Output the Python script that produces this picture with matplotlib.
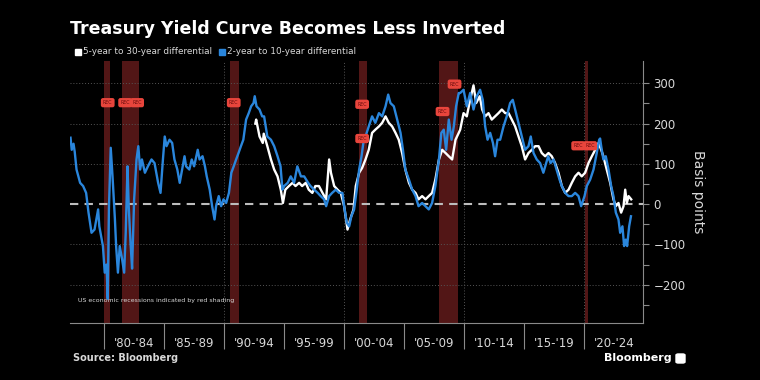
import matplotlib
matplotlib.use('Agg')
import matplotlib.pyplot as plt
from matplotlib.patches import Rectangle, FancyBboxPatch
from matplotlib.ticker import FixedLocator, NullFormatter

# DATA (basis points)
blue_years = [1977.2, 1977.3, 1977.45, 1977.55, 1977.7, 1978.0, 1978.25, 1978.5, 1978.7, 1978.95,
              1979.2, 1979.5, 1979.6, 1979.9, 1980.05, 1980.2, 1980.3, 1980.4, 1980.55, 1980.7,
              1980.9, 1981.0, 1981.15, 1981.3, 1981.5, 1981.67, 1981.8, 1981.95, 1982.05, 1982.2,
              1982.33, 1982.5, 1982.7, 1982.85, 1983.0, 1983.15, 1983.4, 1983.65, 1983.95, 1984.2,
              1984.5, 1984.7, 1984.9, 1985.05, 1985.2, 1985.45, 1985.67, 1985.86, 1986.1, 1986.3,
              1986.5, 1986.7, 1986.83, 1987.1, 1987.3, 1987.5, 1987.8, 1987.95, 1988.2, 1988.4,
              1988.55, 1988.8, 1989.0, 1989.2, 1989.33, 1989.55, 1989.75, 1989.95, 1990.17, 1990.4,
              1990.6, 1990.8, 1991.0, 1991.2, 1991.4, 1991.6, 1991.83, 1992.05, 1992.25, 1992.45,
              1992.55, 1992.7, 1992.95, 1993.17, 1993.33, 1993.6, 1993.9, 1994.17, 1994.45, 1994.7,
              1994.86, 1995.0, 1995.3, 1995.55, 1995.83, 1996.1, 1996.4, 1996.67, 1997.0, 1997.2,
              1997.5, 1997.8, 1998.05, 1998.33, 1998.5, 1998.75, 1999.0, 1999.3, 1999.58, 1999.86,
              2000.0, 2000.22, 2000.42, 2000.6, 2000.83, 2001.05, 2001.25, 2001.45, 2001.6, 2001.78,
              2002.05, 2002.33, 2002.6, 2002.9, 2003.17, 2003.45, 2003.67, 2003.86, 2004.14, 2004.42,
              2004.7, 2004.9, 2005.1, 2005.4, 2005.67, 2005.95, 2006.2, 2006.5, 2006.78, 2007.05,
              2007.33, 2007.6, 2007.9, 2008.1, 2008.3, 2008.5, 2008.72, 2008.95, 2009.14, 2009.33,
              2009.55, 2009.67, 2009.95, 2010.22, 2010.5, 2010.78, 2011.05, 2011.33, 2011.55, 2011.75,
              2011.95, 2012.17, 2012.4, 2012.58, 2012.78, 2013.0, 2013.28, 2013.55, 2013.83, 2014.05,
              2014.25, 2014.53, 2014.8, 2015.08, 2015.36, 2015.55, 2015.78, 2016.05, 2016.33, 2016.6,
              2016.83, 2017.0, 2017.2, 2017.45, 2017.7, 2017.95, 2018.14, 2018.42, 2018.7, 2018.97,
              2019.25, 2019.53, 2019.75, 2020.03, 2020.22, 2020.5, 2020.78, 2021.05, 2021.25, 2021.33,
              2021.42, 2021.6, 2021.8, 2022.03, 2022.25, 2022.44, 2022.64, 2022.86, 2023.0, 2023.19,
              2023.33, 2023.47, 2023.58, 2023.75, 2023.9]
blue_vals = [165, 135, 150, 130, 86, 53, 45, 28, -21, -71,
             -63, -13, -55, -104, -170, -150, -235, -13, 140, 69,
             -38, -104, -170, -104, -137, -170, -71, 94, -5, -96,
             -160, 12, 111, 144, 86, 111, 78, 94, 111, 102,
             53, 28, 111, 168, 144, 160, 152, 111, 86, 53,
             86, 119, 94, 86, 111, 94, 135, 111, 119, 94,
             69, 36, -5, -38, -5, 20, -5, 12, 3, 28,
             78, 94, 111, 127, 144, 160, 210, 226, 243, 251,
             268, 243, 235, 218, 218, 168, 160, 144, 119, 94,
             36, 45, 53, 69, 53, 94, 69, 69, 53, 45,
             36, 28, 20, 12, -5, 20, 28, 36, 28, 28,
             -5, -46, -55, -30, -13, 36, 86, 119, 152, 168,
             193, 218, 202, 226, 218, 243, 272, 251, 243, 210,
             177, 135, 86, 61, 36, 20, -5, 3, -5, -13,
             3, 45, 111, 177, 185, 135, 210, 160, 193, 243,
             276, 276, 284, 243, 276, 235, 268, 284, 259, 193,
             160, 177, 152, 119, 160, 160, 193, 218, 251, 259,
             235, 202, 168, 135, 144, 168, 127, 111, 102, 78,
             102, 119, 102, 111, 86, 61, 45, 28, 20, 20,
             28, 20, -5, 20, 45, 61, 86, 127, 160, 163,
             144, 111, 119, 86, 45, 20, -21, -38, -71, -55,
             -104, -88, -104, -55, -30]

white_years = [1992.6, 1992.67, 1992.95, 1993.22, 1993.3, 1993.6, 1993.9, 1994.17, 1994.45, 1994.72,
               1994.9, 1995.1, 1995.4, 1995.7, 1995.95, 1996.25, 1996.5, 1996.8, 1997.05, 1997.35,
               1997.6, 1997.9, 1998.2, 1998.5, 1998.75, 1998.9, 1999.17, 1999.45, 1999.72, 2000.0,
               2000.28, 2000.5, 2000.78, 2000.97, 2001.25, 2001.5, 2001.78, 2002.05, 2002.33, 2002.6,
               2002.9, 2003.17, 2003.45, 2003.72, 2004.0, 2004.28, 2004.55, 2004.83, 2005.1, 2005.4,
               2005.67, 2005.95, 2006.2, 2006.5, 2006.78, 2007.05, 2007.33, 2007.6, 2007.9, 2008.17,
               2008.45, 2008.72, 2009.0, 2009.28, 2009.55, 2009.67, 2009.95, 2010.22, 2010.5, 2010.78,
               2011.0, 2011.3, 2011.5, 2011.75, 2012.03, 2012.3, 2012.58, 2012.86, 2013.14, 2013.42,
               2013.7, 2013.97, 2014.25, 2014.53, 2014.8, 2015.08, 2015.36, 2015.64, 2015.92, 2016.2,
               2016.47, 2016.75, 2017.03, 2017.3, 2017.58, 2017.86, 2018.14, 2018.42, 2018.7, 2018.97,
               2019.25, 2019.53, 2019.8, 2020.08, 2020.36, 2020.64, 2020.92, 2021.2, 2021.42, 2021.6,
               2021.88, 2022.17, 2022.44, 2022.64, 2022.86, 2023.08, 2023.28, 2023.42, 2023.56, 2023.7,
               2023.92]
white_vals = [200, 210, 168, 152, 175, 144, 111, 86, 69, 36,
              3, 36, 45, 53, 45, 53, 45, 53, 36, 28,
              45, 45, 28, 12, 111, 78, 45, 36, 28, -5,
              -63, -38, -13, 45, 78, 90, 111, 135, 177, 185,
              193, 202, 218, 202, 193, 177, 160, 127, 86, 53,
              36, 28, 12, 20, 12, 20, 28, 61, 111, 135,
              127, 119, 111, 160, 177, 185, 226, 218, 259, 295,
              251, 268, 235, 218, 226, 210, 218, 226, 235, 226,
              226, 210, 193, 168, 144, 111, 127, 135, 144, 144,
              127, 119, 127, 119, 102, 78, 45, 28, 36, 53,
              69, 78, 69, 78, 102, 119, 135, 152, 135, 119,
              86, 53, 12, -5, 3, -21, -5, 36, 3, 20,
              12]

# US recessions (start, end)
recessions = [(1980.0, 1980.5), (1981.5, 1982.9), (1990.5, 1991.2),
              (2001.2, 2001.9), (2007.9, 2009.5), (2020.1, 2020.3)]

# REC markers (year, value)
rec_markers = [(1980.3, 252), (1981.75, 252), (1982.75, 252), (1990.8, 252),
               (2001.5, 248), (2001.5, 163), (2008.2, 230), (2009.2, 298),
               (2019.5, 145), (2020.5, 145)]

period_edges = [1980, 1985, 1990, 1995, 2000, 2005, 2010, 2015, 2020]
period_labels = ["'80-'84", "'85-'89", "'90-'94", "'95-'99", "'00-'04",
                 "'05-'09", "'10-'14", "'15-'19", "'20-'24"]

# PLOT
fig = plt.figure(figsize=(7.6, 3.8), dpi=100, facecolor='black')
ax = fig.add_axes([0.092, 0.15, 0.754, 0.689], facecolor='black')

grey = '#8a8a8a'
txt = '#d8d8d8'
blue = '#2a86dc'

for start, end in recessions:
    ax.axvspan(start, end, color='#521616', lw=0, zorder=1)

for y in [-200, -100, 100, 200, 300]:
    ax.axhline(y, color='#555555', lw=0.7, ls=(0, (1, 2)), zorder=1.5)
for x in [1990, 2000, 2010, 2020]:
    ax.axvline(x, color='#555555', lw=0.7, ls=(0, (1, 2)), zorder=1.5)
ax.axhline(0, color='#bdbdbd', lw=1.5, ls=(0, (4, 3)), zorder=2)

ax.plot(white_years, white_vals, color='white', lw=1.7, zorder=3)
ax.plot(blue_years, blue_vals, color=blue, lw=1.7, zorder=4)

for yr, v in rec_markers:
    ax.text(yr, v, 'REC', fontsize=3.4, color='#6a0c0c', ha='center', va='center', zorder=5,
            bbox=dict(boxstyle='round,pad=0.45', fc='#e8453c', ec='none'))

ax.text(1977.8, -240, 'US economic recessions indicated by red shading',
        fontsize=4.5, color=txt, va='center')

ax.set_xlim(1977.15, 2024.9)
ax.set_ylim(-295, 355)

# axes styling
for side in ['left', 'top']:
    ax.spines[side].set_visible(False)
ax.spines['bottom'].set_color(grey)
ax.spines['right'].set_color(grey)

ax.yaxis.tick_right()
ax.yaxis.set_label_position('right')
ax.set_yticks([-200, -100, 0, 100, 200, 300])
ax.set_yticks([-250, -150, -50, 50, 150, 250], minor=True)
ax.tick_params(axis='y', which='both', colors=grey, labelcolor=txt, labelsize=8.5, length=4, width=0.8)
ax.set_ylabel('Basis points', color=txt, fontsize=10, rotation=270, labelpad=14)

ax.xaxis.set_major_locator(FixedLocator(period_edges))
ax.xaxis.set_major_formatter(NullFormatter())
ax.xaxis.set_minor_locator(FixedLocator([e + 2.5 for e in period_edges]))
ax.set_xticklabels(period_labels, minor=True)
ax.tick_params(axis='x', which='major', colors=grey, length=19, width=0.8)
ax.tick_params(axis='x', which='minor', length=0, labelcolor=txt, labelsize=8.5, pad=10)

# TEXTS
fig.text(70 / 760, 1 - 29 / 380, 'Treasury Yield Curve Becomes Less Inverted',
         fontsize=12.5, fontweight='bold', color='white', va='center')
fig.patches.append(Rectangle((75 / 760, 1 - 55 / 380), 6 / 760, 6 / 380, color='white',
                             transform=fig.transFigure, figure=fig))
fig.text(83 / 760, 1 - 51 / 380, '5-year to 30-year differential', fontsize=6.4, color=txt, va='center')
fig.patches.append(Rectangle((219 / 760, 1 - 55 / 380), 6 / 760, 6 / 380, color=blue,
                             transform=fig.transFigure, figure=fig))
fig.text(227 / 760, 1 - 51 / 380, '2-year to 10-year differential', fontsize=6.4, color=txt, va='center')
fig.text(73 / 760, 1 - 358 / 380, 'Source: Bloomberg', fontsize=7, fontweight='bold', color=txt, va='center')
fig.text(672 / 760, 1 - 358 / 380, 'Bloomberg', fontsize=8, fontweight='bold', color='white',
         va='center', ha='right')
fig.patches.append(FancyBboxPatch((676 / 760, 1 - 363 / 380), 9 / 760, 9 / 380,
                                  boxstyle='round,pad=0,rounding_size=0.003', color='white',
                                  transform=fig.transFigure, figure=fig))

fig.savefig('out.png', dpi=100, facecolor='black')
